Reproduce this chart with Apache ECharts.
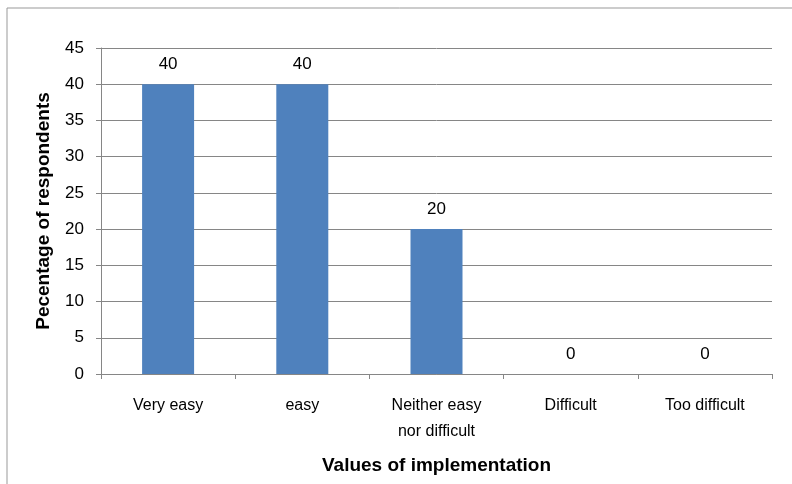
<!DOCTYPE html>
<html><head><meta charset="utf-8">
<script src="https://cdn.jsdelivr.net/npm/echarts@6/dist/echarts.min.js"></script>
<style>html,body{margin:0;padding:0;background:#fff}#c{width:792px;height:484px}</style>
</head><body><div id="c"></div>
<script>
const categories = ['Very easy', 'easy', 'Neither easy\nnor difficult', 'Difficult', 'Too difficult'];
const values = [40, 40, 20, 0, 0];
const yTicks = [0, 5, 10, 15, 20, 25, 30, 35, 40, 45];
const yTitle = 'Pecentage of respondents';
const xTitle = 'Values of implementation';

const font = 'Liberation Sans';
const chart = echarts.init(document.getElementById('c'));
chart.setOption({
  animation: false,
  textStyle: {fontFamily: font},
  graphic: [
    {type:'line', shape:{x1:7,y1:8,x2:792,y2:8}, style:{stroke:'#999', lineWidth:1}},
    {type:'line', shape:{x1:7,y1:8,x2:7,y2:484}, style:{stroke:'#999', lineWidth:1}}
  ],
  grid: {left: 101, right: 20, top: 48, bottom: 110},
  xAxis: {
    type: 'category', data: categories,
    axisLine: {lineStyle: {color: '#868686'}},
    axisTick: {show: true, alignWithLabel: false, length: 5, lineStyle: {color: '#868686'}},
    axisLabel: {color: '#000', fontSize: 16, margin: 19, lineHeight: 26, fontFamily: font},
    name: xTitle, nameLocation: 'middle', nameGap: 82,
    nameTextStyle: {fontSize: 19, fontWeight: 'bold', color: '#000', fontFamily: font}
  },
  yAxis: {
    type: 'value', min: 0, max: 45, interval: 5,
    axisLine: {show: true, lineStyle: {color: '#868686'}},
    axisTick: {show: true, length: 5, lineStyle: {color: '#868686'}},
    axisLabel: {color: '#000', fontSize: 17, margin: 17, fontFamily: font,
      formatter: v => yTicks.includes(v) ? String(v) : ''},
    splitLine: {lineStyle: {color: '#868686'}},
    name: yTitle, nameLocation: 'middle', nameGap: 48, nameRotate: 90,
    nameTextStyle: {fontSize: 19, fontWeight: 'bold', color: '#000', fontFamily: font}
  },
  series: [{
    type: 'bar', data: values, barWidth: 52,
    itemStyle: {color: '#4F81BD'},
    label: {show: true, position: 'top', distance: 11, color: '#000', fontSize: 17, fontFamily: font}
  }]
});
</script></body></html>
